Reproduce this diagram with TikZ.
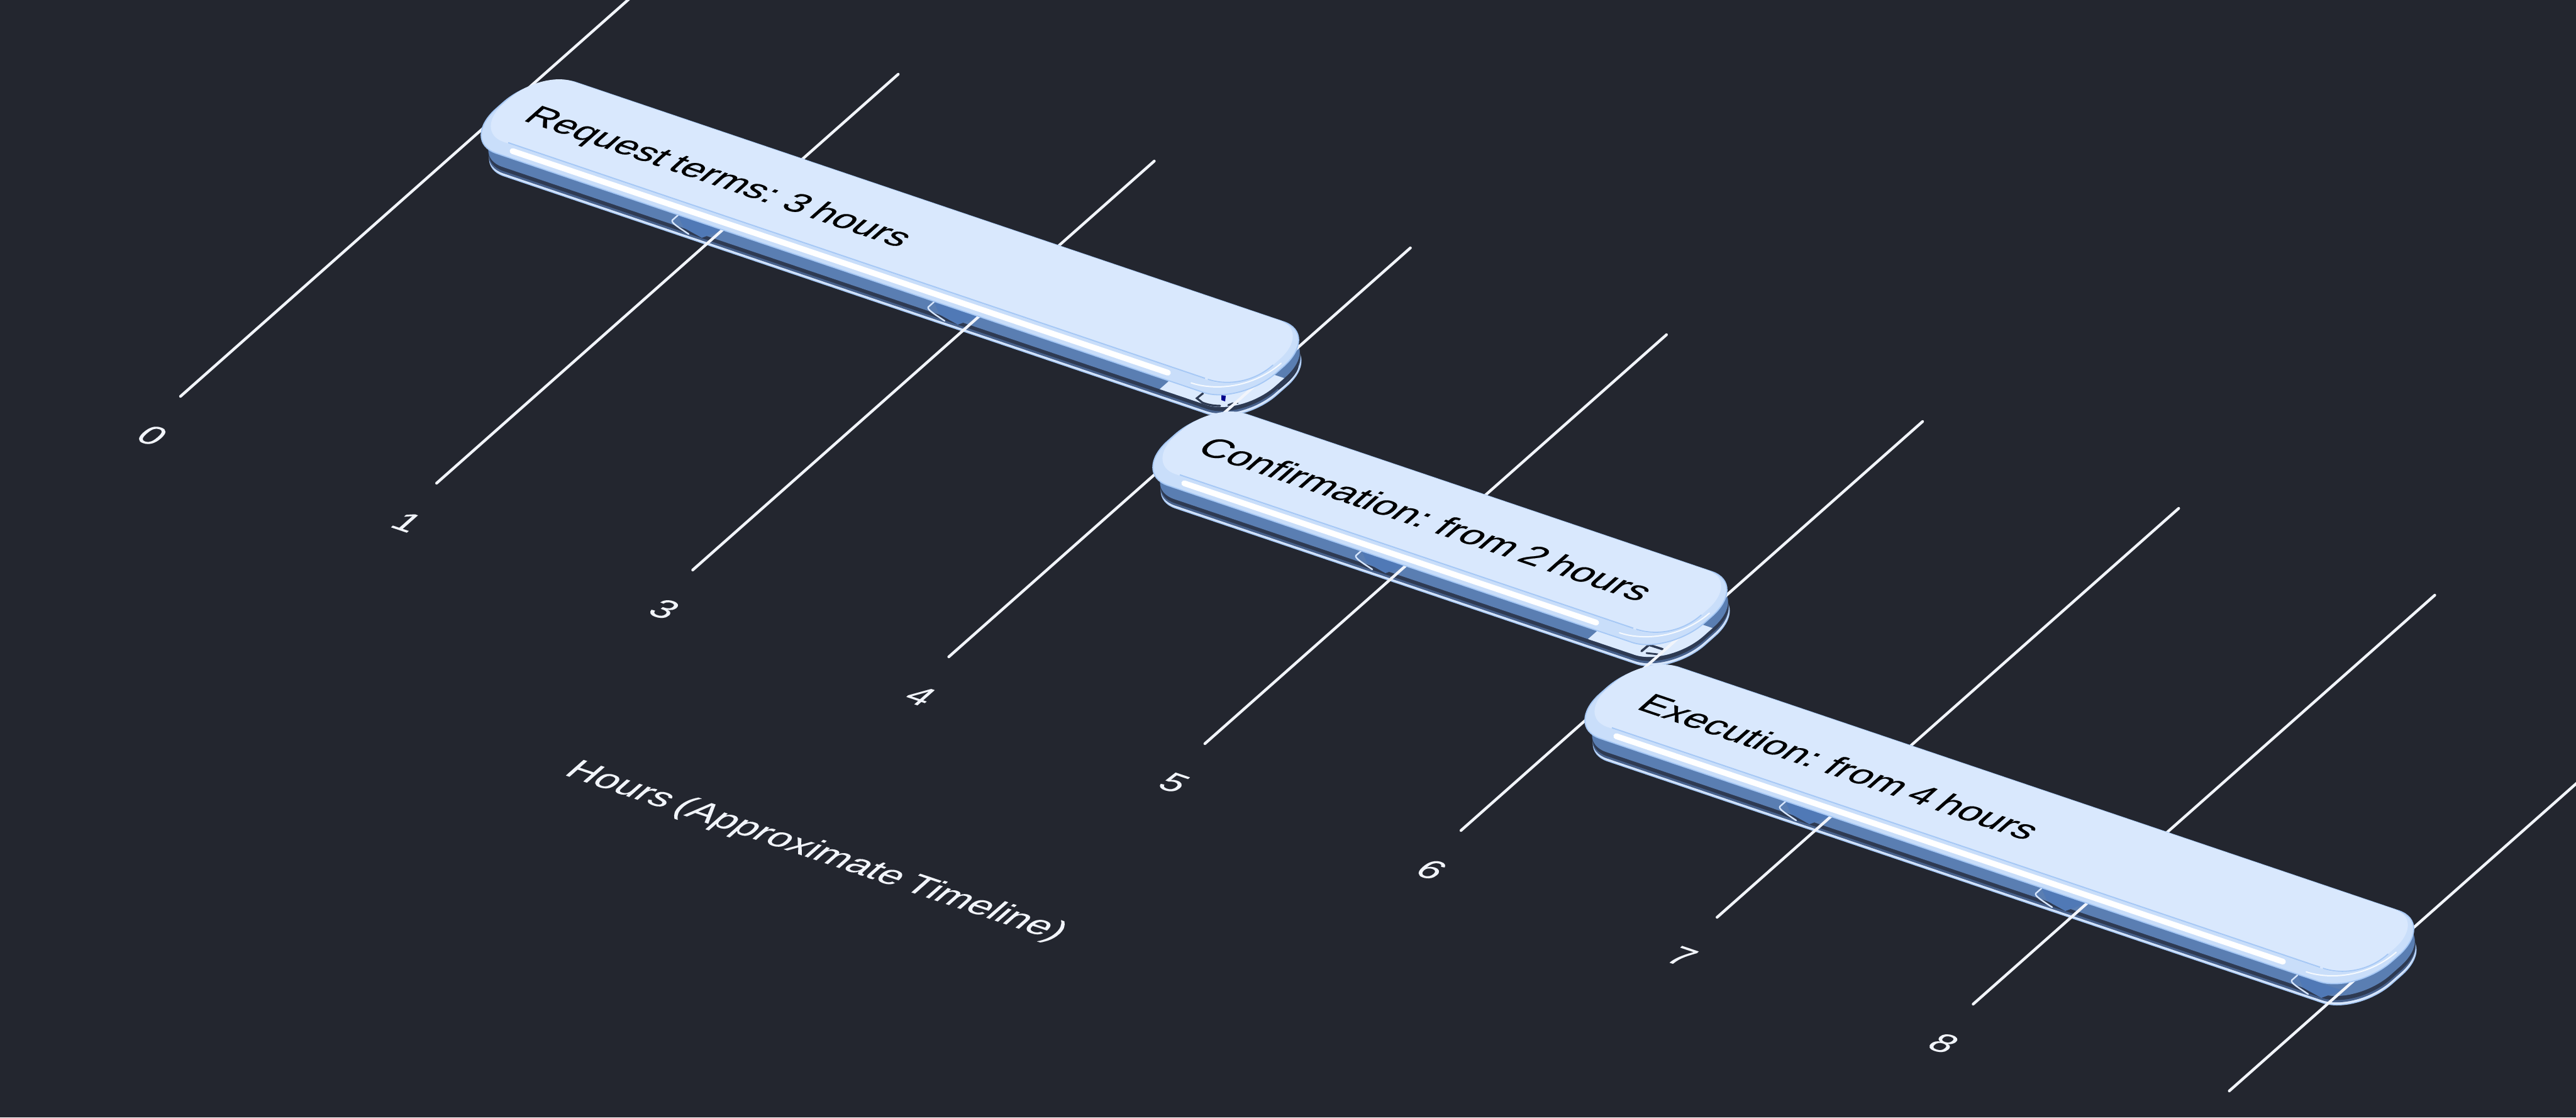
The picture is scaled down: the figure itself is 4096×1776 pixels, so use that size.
\documentclass[tikz,border=0pt]{standalone}
\usepackage{fontspec}
\setmainfont{Liberation Sans}[WordSpace=0.75]
\newfontfamily\barfont{Liberation Sans}[FakeBold=0.35,WordSpace=0.75]
\newfontfamily\softfont{Liberation Sans}[FakeBold=0.12,WordSpace=0.75]
\definecolor{bgdark}{HTML}{23262F}
\definecolor{gridwhite}{HTML}{F2F5FB}
\definecolor{facelight}{HTML}{D9E8FD}
\definecolor{facebevel}{HTML}{C9DEFA}
\definecolor{edgeblue}{HTML}{A6C8F5}
\definecolor{rimpale}{HTML}{D7E6FC}
\definecolor{rimgrey}{HTML}{47618C}
\definecolor{rimdark}{HTML}{2E3A52}
\definecolor{steel}{HTML}{5A7EB2}
\definecolor{steelbright}{HTML}{5079B6}
\definecolor{palepatch}{HTML}{DCEAFD}
% rounded parallelogram in local coordinates: length, height, radius
\newcommand\barshape[3]{(#3,0) -- ({#1-#3},0) .. controls ({#1-.45*#3},0) and (#1,{.45*#3}) .. (#1,#3) -- (#1,{#2-#3}) .. controls (#1,{#2-.45*#3}) and ({#1-.45*#3},#2) .. ({#1-#3},#2) -- (#3,#2) .. controls ({.45*#3},#2) and (0,{#2-.45*#3}) .. (0,{#2-#3}) -- (0,#3) .. controls (0,{.45*#3}) and ({.45*#3},0) .. (#3,0) -- cycle}
\tikzset{
  local/.style={cm={0.25,-0.0845,0.25,0.22125,(#1)},x=1pt,y=1pt},
  gridline/.style={draw=gridwhite,line width=1.1pt,line cap=round},
  hookline/.style={draw=#1,line width=0.6pt,line cap=round},
  skewtext/.style={cm={0.9473,-0.3202,0.648,0.573,(0,0)},inner sep=0pt,outer sep=0pt},
  barlabel/.style={skewtext,anchor=base west,text=black},
  ticklabel/.style={skewtext,anchor=center,text=gridwhite,font=\softfont\fontsize{15.3}{18}\selectfont},
  axislabel/.style={skewtext,anchor=base west,text=gridwhite,font=\softfont\fontsize{15.75}{18}\selectfont},
}
\newcommand\barrim[4]{% x, y, U, pale end (1/0)
  \begin{scope}[local={#1,#2}]
    \fill[rimpale,draw=edgeblue,line width=.4pt,shift={(41,-26)}] \barshape{#3-12}{126}{55};
    \fill[rimgrey,shift={(37,-23)}] \barshape{#3-12}{126}{55};
    \fill[rimdark,shift={(34,-20)}] \barshape{#3-12}{126}{55};
    \fill[steel,shift={(28,-15)}] \barshape{#3-12}{126}{55};
    \ifnum#4=1
      \begin{scope}
        \path[clip,shift={(28,-15)}] \barshape{#3-12}{126}{55};
        \fill[palepatch] ({#3-113},-60) rectangle ({#3+52},54);
      \end{scope}
    \fi
  \end{scope}}
\newcommand\barface[3]{% x, y, U
  \begin{scope}[local={#1,#2}]
    \fill[facebevel,draw=edgeblue,line width=.45pt] \barshape{#3}{127}{58};
    \begin{scope}[shift={(2,18)}]
      \fill[facelight] \barshape{#3-16}{109}{50};
    \end{scope}
    \draw[edgeblue,line width=.5pt] (58,19) -- ({#3-75},19);
    \draw[white,line width=2.3pt,line cap=round] (74,10) -- ({#3-125},10);
    \draw[white,line width=.5pt,opacity=.85,line cap=round] ({#3-85},7) .. controls ({#3-50},7) and ({#3-8},25) .. ({#3-7},72);
    \draw[edgeblue,line width=.45pt,line cap=round] ({#3-70},19) .. controls ({#3-40},19) and ({#3-14},35) .. ({#3-14},66);
  \end{scope}}
\begin{document}
\begin{tikzpicture}[x=0.25pt,y=-0.25pt]
\useasboundingbox (0,0) rectangle (4096,1776);
\fill[bgdark] (0,0) rectangle (4096,1776);
\clip (0,0) rectangle (4096,1776);
% rims (lowest layer of each bar)
\barrim{731}{224}{1241}{1}
\barrim{1799}{752}{854}{1}
\barrim{2486}{1154}{1259}{0}
% refraction patches and hooks on the bar edges
\foreach \cx/\cy in {1149/366,1556/504,2236/899,2910/1298,3317/1436,3724/1574}{
  \fill[steelbright] ({\cx-71},{\cy-24}) -- (\cx,\cy) -- ({\cx-33},{\cy+12}) -- ({\cx-62},{\cy-4}) -- cycle;
  \draw[hookline=rimpale] ({\cx-71},{\cy-24}) -- ({\cx-80},{\cy-16}) .. controls ({\cx-82},{\cy-12}) and ({\cx-72},{\cy-6}) .. ({\cx-54},{\cy+6});
}
% dark marks seen through the pale end of the first bar
\draw[rimdark,line width=.8pt,line cap=round] (1913,625) -- (1903,633) -- (1912,640) .. controls (1925,645) and (1935,645) .. (1940,645);
\fill[blue!55!black] (1942,628) -- (1949,629) -- (1948,638) -- (1942,636) -- cycle;
\draw[rimdark,line width=.8pt,line cap=round] (1953,644) -- (1961,641);
\draw[rimdark,line width=.6pt,line cap=round] (1967,641) -- (1968,641);
\draw[rimdark,line width=.7pt,line cap=round] (2033,618) .. controls (2050,605) and (2062,592) .. (2063,583);
% dark bracket seen through the pale end of the second bar
\draw[rimdark,line width=.9pt,line cap=round] (2610,1035) -- (2622,1025) -- (2644,1032);
\draw[rimdark,line width=.7pt,line cap=round] (2618,1038) -- (2636,1040);
% grid lines
\foreach \k in {0,...,8}{
  \pgfmathsetmacro{\xa}{287+407.2*\k}
  \pgfmathsetmacro{\ya}{630+138*\k}
  \coordinate (g\k a) at (\xa,\ya);
  \coordinate (g\k b) at ({\xa+734},{\ya-650});
  \draw[gridline] (g\k a) -- (g\k b);
}
% top faces
\barface{731}{224}{1241}
\barface{1799}{752}{854}
\barface{2486}{1154}{1259}
% texts
\node[barlabel,font=\barfont\fontsize{15.4}{18}\selectfont] (req) at (830,191) {Request terms: 3 hours};
\node[barlabel,font=\barfont\fontsize{15.9}{18}\selectfont] (conf) at (1900,718) {Confirmation: from 2 hours};
\node[barlabel,font=\barfont\fontsize{15.7}{18}\selectfont] (exec) at (2600,1126) {Execution: from 4 hours};
\foreach \k/\t/\dx in {0/0/2,1/1/0,2/3/2,3/4/2,4/5/-2,5/6/0,6/7/-9,7/8/0}{
  \node[ticklabel] (tick\k) at ({240+407.2*\k+\dx},{692+138*\k}) {\t};
}
\node[axislabel] (axis) at (895,1231) {Hours (Approximate Timeline)};
\end{tikzpicture}
\end{document}
